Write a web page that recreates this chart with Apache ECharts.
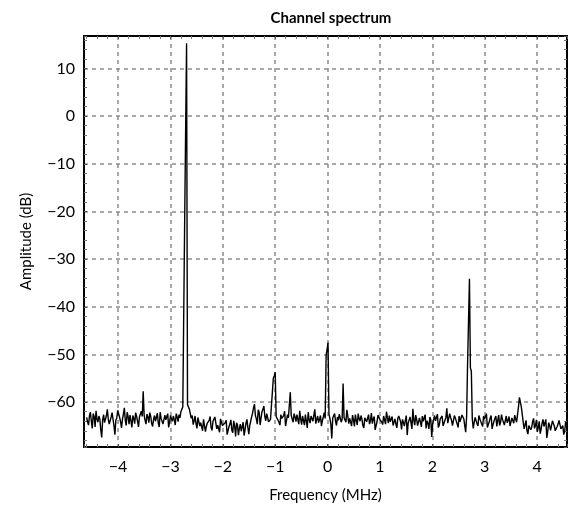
<!DOCTYPE html>
<html>
<head>
<meta charset="utf-8">
<script src="https://cdn.jsdelivr.net/npm/echarts@6/dist/echarts.min.js"></script>
<style>
  html, body { margin: 0; padding: 0; background: #fff; }
  #main { width: 569px; height: 508px; }
</style>
</head>
<body>
<div id="main"></div>
<script>
// frequency grid of the spectrum (MHz): even bins hold amplitude[], odd bins hold amplitudeMid[]
var freqStart = -4.6
var freqStep = 0.018

// amplitude of the even bins (dB)
var amplitude = [
  -63.2,-64.8,-62.1,-65.5,-63.0,-61.8,-64.2,-63.5,-67.4,-62.6,
  -63.9,-61.5,-64.6,-63.1,-62.4,-66.8,-63.3,-62.0,-64.1,-63.6,
  -61.2,-64.9,-63.0,-62.7,-65.3,-63.4,-62.2,-64.0,-63.1,-61.9,
  -57.7,
  -63.8,-62.5,-64.3,-63.0,-65.1,-62.8,-63.6,-64.4,-62.1,-63.3,
  -65.0,-63.7,-62.4,-64.2,-63.5,-62.9,-64.8,-63.1,-62.6,
  -62.0,-61.0,-21.6,15.3,-61.0,-61.8,
  -62.8,-63.9,-64.5,-63.2,-65.0,-64.1,-63.6,-66.2,-64.4,-63.8,
  -65.3,-64.0,-63.1,-65.6,-64.7,-63.5,-64.9,
  -65.2,-63.8,-66.5,-64.6,-65.9,-63.9,-67.2,-64.8,-65.5,-66.1,
  -64.2,-65.8,-63.6,-66.7,
  -64.0,-62.3,-60.4,-63.5,-61.6,-64.8,-62.0,-60.8,-63.9,-62.7,
  -64.5,-63.4,
  -55.0,-53.7,
  -63.0,-64.2,-62.6,-63.8,-61.9,-64.6,-63.3,
  -57.9,
  -63.5,-62.4,-64.1,-63.0,-61.8,-64.7,-63.2,-62.6,-65.4,-63.7,
  -62.9,-64.0,-61.5,-63.6,-64.3,-62.8,-63.9,-62.2,
  -50.2,-47.5,
  -63.4,-67.6,-62.9,-64.0,-63.1,-62.5,-64.2,
  -56.1,
  -63.0,-61.6,-64.5,-63.3,-62.7,-65.1,-63.8,-62.4,-64.0,-63.6,
  -65.4,-62.9,-63.7,-64.6,-62.3,-63.5,-65.8,-64.1,-62.8,-63.9,
  -64.7,-63.2,-62.0,-64.4,
  -64.1,-63.0,-65.2,-64.6,-63.4,-62.6,-65.7,-64.3,-63.8,-66.9,
  -64.0,-63.3,-61.4,-64.8,-63.6,-65.1,-64.2,-62.9,-63.7,-65.5,
  -64.4,-63.1,-67.3,-64.6,-63.9,-62.5,-64.8,-63.4,-65.0,-63.8,
  -61.3,-64.5,-63.2,-64.9,-62.8,-63.6,-65.3,-64.1,-62.7,-63.5,
  -66.3,-52.0,-34.1,-53.5,-65.5,
  -63.2,-64.5,-62.8,-63.9,-65.1,-63.6,-62.4,-64.7,-63.3,-65.6,
  -64.0,-62.9,-63.8,-64.9,-62.6,-63.5,-65.2,-64.3,-63.0,-64.6,
  -63.7,-62.7,-64.2,
  -61.0,-58.7,-61.2,
  -65.6,-63.8,-66.7,-64.5,-65.3,-63.4,-64.9,-66.2,-64.0,-65.7,
  -63.6,-64.8,-67.5,-64.3,-65.9,-63.9,-65.0,-66.4,-64.6,-63.5,
  -65.4,-66.8,-64.1,-65.2
]

// amplitude of the odd bins (dB)
var amplitudeMid = [
  -64.1,-62.9,-64.0,-62.4,-65.2,-63.6,-62.9,-65.8,-63.7,-64.3,
  -62.8,-63.6,-65.0,-62.2,-64.9,-63.8,-61.7,-63.2,-65.4,-62.5,
  -63.8,-62.1,-64.6,-63.9,-62.8,-64.5,-63.0,-65.2,-62.9,
  -63.0,-62.7,
  -64.6,-63.1,-62.2,-64.5,-63.6,-64.0,-62.3,-65.2,-63.4,-64.6,
  -62.7,-63.9,-65.3,-62.8,-64.0,-63.7,-62.4,-64.1,-63.3,
  -61.5,-61.2,-21.4,-60.5,-61.5,
  -63.4,-64.7,-62.9,-65.5,-63.6,-64.3,-66.0,-63.2,-65.1,-64.6,
  -63.0,-65.9,-64.3,-62.7,-64.8,-66.3,-63.9,-64.5,
  -64.3,-66.8,-65.1,-63.7,-66.4,-65.0,-64.3,-66.9,-64.6,-65.7,
  -67.0,-64.4,-65.3,-64.9,
  -63.1,-61.2,-62.8,-64.6,-62.1,-63.3,-61.5,-63.0,-62.4,-64.1,-63.6,
  -63.8,-54.5,-63.0,
  -62.9,-64.8,-63.4,-62.8,-65.0,-62.6,
  -63.1,-62.8,
  -64.2,-63.1,-62.6,-64.6,-63.5,-62.9,-64.8,-63.9,-62.1,-64.4,
  -63.2,-62.7,-64.5,-62.9,-63.6,-65.0,-63.1,
  -63.4,-49.0,-62.5,
  -64.6,-63.3,-62.4,-64.9,-63.8,-62.7,
  -63.6,-63.2,
  -64.2,-62.9,-63.4,-65.0,-63.7,-62.6,-64.8,-63.5,-62.8,-64.9,
  -63.3,-64.1,-62.6,-63.9,-64.5,-63.0,-64.9,-62.7,-63.6,-64.2,
  -62.9,-64.6,-63.3,-62.8,-63.7,-64.9,-63.5,-65.4,-62.9,-64.1,
  -63.6,-65.0,-62.8,-64.4,-63.1,-65.6,-63.8,-62.7,-64.9,-63.3,
  -65.2,-64.0,-62.6,-63.9,-65.6,-63.7,-64.5,-62.8,-64.1,-65.3,
  -63.5,-62.9,-64.7,-63.2,-64.4,-62.4,-63.8,-65.0,-63.3,-64.6,
  -62.9,-64.3,-63.0,
  -63.8,-63.0,-51.8,-52.8,-63.5,
  -64.3,-63.1,-65.0,-63.5,-64.6,-62.9,-63.9,-65.3,-64.1,-62.8,
  -64.7,-63.4,-65.1,-62.7,-64.2,-63.6,-64.8,-62.9,-63.8,-65.0,
  -63.3,-64.4,-63.1,
  -63.9,-59.0,-61.0,-64.2,
  -64.7,-66.0,-64.9,-65.8,-64.1,-65.5,-63.7,-65.3,-66.6,-64.4,
  -65.1,-63.6,-66.2,-64.8,-65.7,-64.2,-66.0,-65.1,-63.8,-65.6,
  -64.9,-66.1,-64.6
]

var xMin = -4.65, xMax = 4.57
var yMin = -69.4, yMax = 16.8

var points = []
amplitude.forEach(function (v, i) {
  points.push([+(freqStart + 2 * i * freqStep).toFixed(3), v])
  if (i < amplitudeMid.length) {
    points.push([+(freqStart + (2 * i + 1) * freqStep).toFixed(3), amplitudeMid[i]])
  }
})

var font = 'Lato, "Noto Sans", sans-serif'
var gridLine = { show: true, lineStyle: { color: '#8c8c8c', type: [4, 4], width: 1.5 } }
var minus = function (v) { return String(v).replace('-', '\u2212') }

function frameAxis(extra) {
  var a = {
    type: 'value',
    axisLine: { show: true, onZero: false, lineStyle: { color: '#000', width: 2 } },
    axisTick: { show: true, inside: true, length: 3, lineStyle: { color: '#555' } },
    minorTick: { show: true, splitNumber: 5, length: 3, lineStyle: { color: '#777' } },
    axisLabel: { show: false },
    splitLine: { show: false }
  }
  for (var k in extra) a[k] = extra[k]
  return a
}

var myChart = echarts.init(document.getElementById('main'))

var option = {
  animation: false,
  backgroundColor: '#fff',
  title: {
    text: 'Channel spectrum',
    left: 326,
    top: 6,
    textAlign: 'center',
    textStyle: { fontFamily: font, fontWeight: 'bold', fontSize: 15, color: '#000' }
  },
  grid: {
    left: 84, right: 2, top: 36, bottom: 60,
    show: true, borderColor: '#000', borderWidth: 2
  },
  xAxis: [
    frameAxis({
      min: xMin, max: xMax, splitNumber: 9,
      name: 'Frequency (MHz)', nameLocation: 'middle', nameGap: 41,
      nameTextStyle: { fontFamily: font, fontSize: 15, color: '#000' },
      axisLabel: {
        show: true, showMinLabel: false, showMaxLabel: false, margin: 12,
        fontFamily: font, fontSize: 16, color: '#000', formatter: minus
      },
      splitLine: gridLine
    }),
    frameAxis({ min: xMin, max: xMax, splitNumber: 9, position: 'top' })
  ],
  yAxis: [
    frameAxis({
      min: yMin, max: yMax, splitNumber: 9,
      name: 'Amplitude (dB)', nameLocation: 'middle', nameGap: 50,
      nameTextStyle: { fontFamily: font, fontSize: 15, color: '#000' },
      axisLabel: {
        show: true, showMinLabel: false, showMaxLabel: false, margin: 9,
        fontFamily: font, fontSize: 16, color: '#000', formatter: minus
      },
      splitLine: gridLine
    }),
    frameAxis({ min: yMin, max: yMax, splitNumber: 9, position: 'right' })
  ],
  series: [
    {
      name: 'spectrum',
      type: 'line',
      xAxisIndex: 0,
      yAxisIndex: 0,
      data: points,
      symbol: 'none',
      lineStyle: { color: '#000', width: 1.4 }
    }
  ]
}
myChart.setOption(option)
</script>
</body>
</html>
